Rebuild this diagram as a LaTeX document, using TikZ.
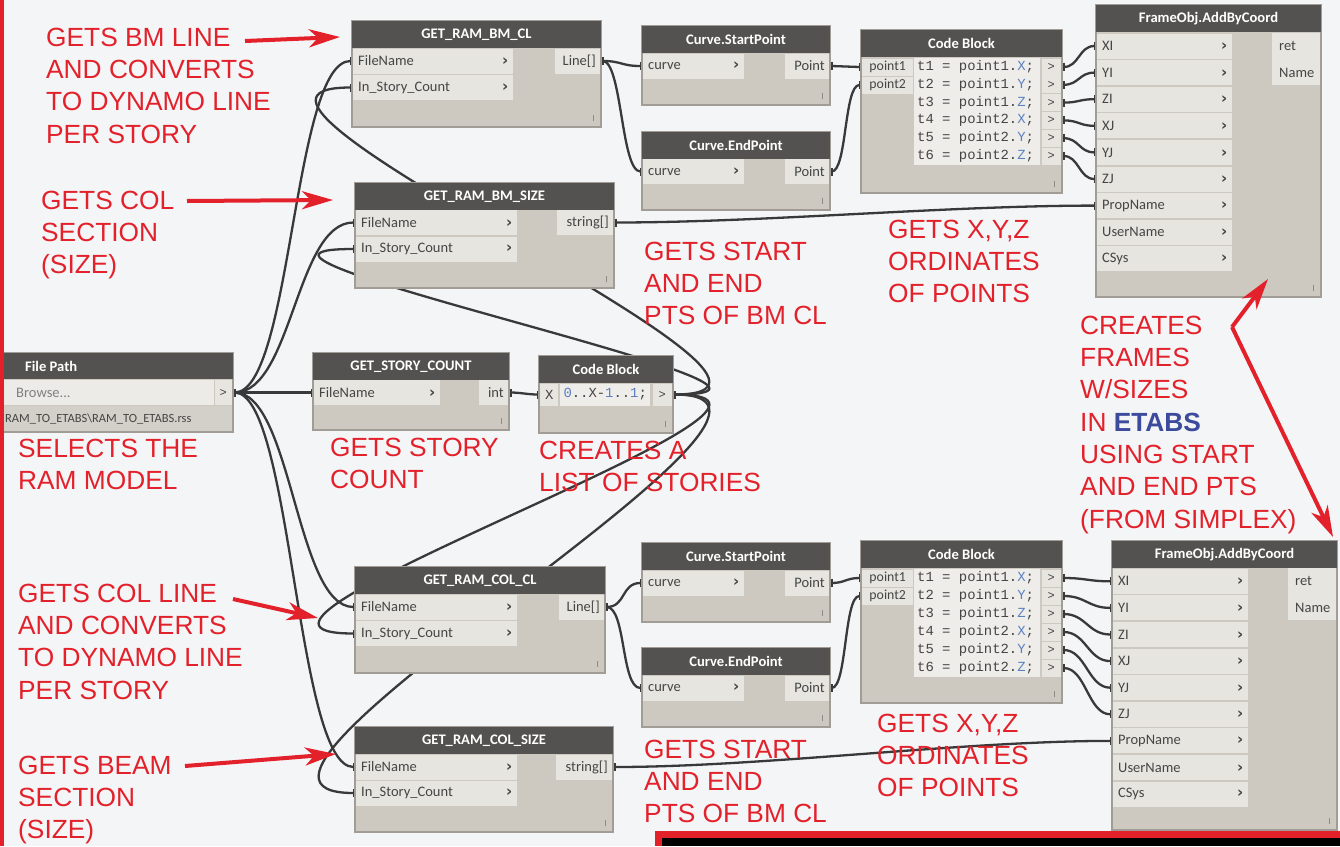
\documentclass[tikz,border=0pt]{standalone}
\usepackage{fontspec}
\setmainfont{Liberation Sans}
\newfontfamily\uifont{Carlito}
\newfontfamily\codefont{Liberation Mono}
\newfontfamily\chevfont{DejaVu Sans}
\usetikzlibrary{arrows.meta}

\definecolor{canvasbg}{HTML}{F4F5F7}
\definecolor{headgray}{HTML}{545250}
\definecolor{bodygray}{HTML}{CDC9C1}
\definecolor{rowgray}{HTML}{E7E5E0}
\definecolor{codecell}{HTML}{EFEDEA}
\definecolor{edgegray}{HTML}{A19D96}
\definecolor{textgray}{HTML}{454545}
\definecolor{wiregray}{HTML}{393939}
\definecolor{gripgray}{HTML}{8E8A84}
\definecolor{notered}{HTML}{E3212B}
\definecolor{noteblue}{HTML}{3C4B9B}
\definecolor{codeblue}{HTML}{5A80C4}
\definecolor{pathcell}{HTML}{D3D0CA}
\definecolor{browsecell}{HTML}{ECEBE8}

\pgfdeclarelayer{canvaslayer}
\pgfdeclarelayer{wirelayer}
\pgfdeclarelayer{notelayer}
\pgfsetlayers{canvaslayer,wirelayer,main,notelayer}

\tikzset{
  nodebody/.style={fill=bodygray, draw=edgegray, line width=1.2pt},
  nodehead/.style={fill=headgray},
  title/.style={text=white, inner sep=0pt, font=\uifont\bfseries\fontsize{14.6}{16}\selectfont},
  inport/.style={anchor=west, fill=rowgray, inner xsep=5pt, inner ysep=0pt, minimum height=25pt,
    align=left, text=textgray, font=\uifont\fontsize{14.5}{16}\selectfont},
  outport/.style={anchor=east, fill=rowgray, inner xsep=4pt, inner ysep=0pt, minimum height=25pt,
    align=right, text=textgray, font=\uifont\fontsize{14.5}{16}\selectfont},
  cbport/.style={anchor=west, fill=rowgray, inner xsep=3pt, inner ysep=0pt, minimum height=17pt,
    text=textgray, font=\uifont\fontsize{13.8}{15}\selectfont},
  cbout/.style={anchor=east, fill=rowgray, inner sep=0pt, minimum width=19pt, minimum height=17pt,
    text=textgray, font=\codefont\fontsize{12}{14}\selectfont},
  codeline/.style={anchor=west, inner sep=0pt, text=textgray, font=\codefont\fontsize{13.9}{16}\selectfont},
  outlabel/.style={anchor=west, inner sep=0pt, text=textgray, font=\uifont\fontsize{14.5}{16}\selectfont},
  grip/.style={draw=gripgray, line width=1pt},
  wiretip/.tip={Rectangle[length=3.5pt,width=8pt]},
  wire/.style={draw=wiregray, line width=2.3pt, wiretip-wiretip},
  note/.style={anchor=north west, inner sep=0pt, align=left, text=notered,
    font=\fontsize{26.3}{32.3}\selectfont},
  notearrow/.style={draw=notered, line width=4pt, -{Stealth[length=31pt,width=18pt,inset=9pt]}},
}

% the bold chevron of an input port
\newcommand\chev{{\chevfont\bfseries\fontsize{15}{15}\selectfont ›}}

% frame of a Dynamo node: name, left, top, right, bottom, title
\newcommand\DynFrame[6]{%
  \path[nodebody] (#2,#3) rectangle (#4,#5);
  \path[nodehead] (#2,#3) rectangle (#4,{#3+27});
  \node[title] (#1) at ({(#2+#4)/2},{#3+13.5}) {#6};
  \draw[grip] ({#4-8},{#5-12}) -- ({#4-8},{#5-6});
}
% input port row: name, left, y, width, label
\newcommand\InRow[5]{%
  \pgfmathsetmacro\rowtw{#4-10}%
  \node[inport, text width=\rowtw pt] (#1) at (#2,#3) {#5\hfill\chev};
}
% output port cell: name, right, y, width, label
\newcommand\OutRow[5]{%
  \pgfmathsetmacro\rowtw{#4-8}%
  \node[outport, text width=\rowtw pt] (#1) at (#2,#3) {#5};
}

\begin{document}
\begin{tikzpicture}[x=1pt,y=-1pt]
\useasboundingbox (0,0) rectangle (1340,846);
\begin{pgfonlayer}{canvaslayer}
  \fill[canvasbg] (0,0) rectangle (1340,846);
\end{pgfonlayer}

% ---------------- File Path
\path[nodebody] (3,353) rectangle (233,432);
\path[nodehead] (3,353) rectangle (233,379);
\node[title, anchor=west] (fp) at (25,366) {File Path};
\fill[browsecell] (4,380) rectangle (214,405);
\node[outlabel, text=gray] (fp-browse) at (16,392.5) {Browse...};
\node[cbout, minimum width=17pt, minimum height=25pt] (fp-out) at (232,392.5) {>};
\fill[pathcell] (4,406) rectangle (232,431);
\node[outlabel, font=\uifont\fontsize{12.5}{14}\selectfont] (fp-path) at (5,419)
  {RAM\_TO\_ETABS\textbackslash RAM\_TO\_ETABS.rss};

% ---------------- GET_STORY_COUNT
\DynFrame{sc}{313}{353}{509}{430}{GET\_STORY\_COUNT}
\InRow{sc-fn}{314}{392.5}{126}{FileName}
\OutRow{sc-out}{508}{392.5}{29}{int}

% ---------------- Code Block (story list)
\DynFrame{cbM}{539}{356}{673}{433}{Code Block}
\node[cbport, inner xsep=0pt, minimum width=18pt, minimum height=22pt, font=\codefont\fontsize{13.9}{16}\selectfont] (cbM-x) at (540,394.5) {X};
\node[codeline, anchor=west, fill=codecell, minimum width=90pt, minimum height=22pt, inner xsep=3pt] (cbM-code) at (560,394.5)
  {\textcolor{codeblue}{0}..X-\textcolor{codeblue}{1}..\textcolor{codeblue}{1};};
\node[cbout, minimum height=22pt] (cbM-out) at (672,394.5) {>};

% ---------------- GET_RAM_BM_CL
\DynFrame{bmcl}{352}{21}{601}{127}{GET\_RAM\_BM\_CL}
\InRow{bmcl-fn}{353}{61}{160}{FileName}
\InRow{bmcl-sc}{353}{87.5}{160}{In\_Story\_Count}
\OutRow{bmcl-out}{600}{61}{45}{Line[]}

% ---------------- GET_RAM_BM_SIZE
\DynFrame{bmsize}{355}{183}{614}{288}{GET\_RAM\_BM\_SIZE}
\InRow{bmsize-fn}{356}{222.5}{161}{FileName}
\InRow{bmsize-sc}{356}{249}{161}{In\_Story\_Count}
\OutRow{bmsize-out}{613}{222.5}{56}{string[]}

% ---------------- Curve.StartPoint / Curve.EndPoint (beams)
\DynFrame{spA}{642}{26}{830}{105}{Curve.StartPoint}
\InRow{spA-in}{643}{66}{101}{curve}
\OutRow{spA-out}{829}{66}{44}{Point}
\DynFrame{epA}{642}{132}{830}{210}{Curve.EndPoint}
\InRow{epA-in}{643}{171.5}{101}{curve}
\OutRow{epA-out}{829}{171.5}{44}{Point}

% ---------------- Code Block (beam coordinates)
\DynFrame{cbA}{861}{30}{1062}{193}{Code Block}
\fill[codecell] (914,58) rectangle (1040,165);
\node[cbport, minimum width=51pt] (cbA-p1) at (862,67) {point1};
\node[cbport, minimum width=51pt] (cbA-p2) at (862,85) {point2};
\node[codeline] (cbA-l1) at (917,67) {t1 = point1.\textcolor{codeblue}{X};};
\node[codeline] (cbA-l2) at (917,84.8) {t2 = point1.\textcolor{codeblue}{Y};};
\node[codeline] (cbA-l3) at (917,102.6) {t3 = point1.\textcolor{codeblue}{Z};};
\node[codeline] (cbA-l4) at (917,120.4) {t4 = point2.\textcolor{codeblue}{X};};
\node[codeline] (cbA-l5) at (917,138.2) {t5 = point2.\textcolor{codeblue}{Y};};
\node[codeline] (cbA-l6) at (917,156) {t6 = point2.\textcolor{codeblue}{Z};};
\node[cbout] (cbA-o1) at (1061,67) {>};
\node[cbout] (cbA-o2) at (1061,84.8) {>};
\node[cbout] (cbA-o3) at (1061,102.6) {>};
\node[cbout] (cbA-o4) at (1061,120.4) {>};
\node[cbout] (cbA-o5) at (1061,138.2) {>};
\node[cbout] (cbA-o6) at (1061,156) {>};

% ---------------- FrameObj.AddByCoord (beams)
\DynFrame{foA}{1096}{5}{1321}{297}{FrameObj.AddByCoord}
\InRow{foA-xi}{1097}{46}{135}{XI}
\InRow{foA-yi}{1097}{72.6}{135}{YI}
\InRow{foA-zi}{1097}{99.2}{135}{ZI}
\InRow{foA-xj}{1097}{125.8}{135}{XJ}
\InRow{foA-yj}{1097}{152.4}{135}{YJ}
\InRow{foA-zj}{1097}{179}{135}{ZJ}
\InRow{foA-prop}{1097}{205.6}{135}{PropName}
\InRow{foA-user}{1097}{232.2}{135}{UserName}
\InRow{foA-csys}{1097}{258.8}{135}{CSys}
\fill[rowgray] (1272,33) rectangle (1320,85);
\node[outlabel] (foA-ret) at (1279,46) {ret};
\node[outlabel] (foA-name) at (1279,72.6) {Name};

% ---------------- GET_RAM_COL_CL
\DynFrame{colcl}{355}{567}{605}{673}{GET\_RAM\_COL\_CL}
\InRow{colcl-fn}{356}{607}{161}{FileName}
\InRow{colcl-sc}{356}{633.5}{161}{In\_Story\_Count}
\OutRow{colcl-out}{604}{607}{45}{Line[]}

% ---------------- GET_RAM_COL_SIZE
\DynFrame{colsize}{355}{727}{613}{832}{GET\_RAM\_COL\_SIZE}
\InRow{colsize-fn}{356}{767}{161}{FileName}
\InRow{colsize-sc}{356}{793}{161}{In\_Story\_Count}
\OutRow{colsize-out}{612}{767}{56}{string[]}

% ---------------- Curve.StartPoint / Curve.EndPoint (columns)
\DynFrame{spB}{642}{543}{830}{622}{Curve.StartPoint}
\InRow{spB-in}{643}{583}{101}{curve}
\OutRow{spB-out}{829}{583}{44}{Point}
\DynFrame{epB}{642}{648}{830}{727}{Curve.EndPoint}
\InRow{epB-in}{643}{688}{101}{curve}
\OutRow{epB-out}{829}{688}{44}{Point}

% ---------------- Code Block (column coordinates)
\DynFrame{cbB}{861}{541}{1062}{703}{Code Block}
\fill[codecell] (914,569) rectangle (1040,677);
\node[cbport, minimum width=51pt] (cbB-p1) at (862,578) {point1};
\node[cbport, minimum width=51pt] (cbB-p2) at (862,596) {point2};
\node[codeline] (cbB-l1) at (917,578) {t1 = point1.\textcolor{codeblue}{X};};
\node[codeline] (cbB-l2) at (917,596) {t2 = point1.\textcolor{codeblue}{Y};};
\node[codeline] (cbB-l3) at (917,614) {t3 = point1.\textcolor{codeblue}{Z};};
\node[codeline] (cbB-l4) at (917,632) {t4 = point2.\textcolor{codeblue}{X};};
\node[codeline] (cbB-l5) at (917,650) {t5 = point2.\textcolor{codeblue}{Y};};
\node[codeline] (cbB-l6) at (917,668) {t6 = point2.\textcolor{codeblue}{Z};};
\node[cbout] (cbB-o1) at (1061,578) {>};
\node[cbout] (cbB-o2) at (1061,596) {>};
\node[cbout] (cbB-o3) at (1061,614) {>};
\node[cbout] (cbB-o4) at (1061,632) {>};
\node[cbout] (cbB-o5) at (1061,650) {>};
\node[cbout] (cbB-o6) at (1061,668) {>};

% ---------------- FrameObj.AddByCoord (columns)
\DynFrame{foB}{1112}{541}{1337}{830}{FrameObj.AddByCoord}
\InRow{foB-xi}{1113}{581.3}{135}{XI}
\InRow{foB-yi}{1113}{607.9}{135}{YI}
\InRow{foB-zi}{1113}{634.5}{135}{ZI}
\InRow{foB-xj}{1113}{661.1}{135}{XJ}
\InRow{foB-yj}{1113}{687.7}{135}{YJ}
\InRow{foB-zj}{1113}{714.3}{135}{ZJ}
\InRow{foB-prop}{1113}{740.9}{135}{PropName}
\InRow{foB-user}{1113}{767.5}{135}{UserName}
\InRow{foB-csys}{1113}{794.1}{135}{CSys}
\fill[rowgray] (1288,568) rectangle (1336,620);
\node[outlabel] (foB-ret) at (1295,581.3) {ret};
\node[outlabel] (foB-name) at (1295,607.9) {Name};

% ---------------- wires
\begin{pgfonlayer}{wirelayer}
  % file path fan-out
  \draw[wire] (fp-out.east) .. controls +(60,0) and +(-60,0) .. (bmcl-fn.west);
  \draw[wire] (fp-out.east) .. controls +(60,0) and +(-60,0) .. (bmsize-fn.west);
  \draw[wire] (fp-out.east) .. controls +(30,0) and +(-30,0) .. (sc-fn.west);
  \draw[wire] (fp-out.east) .. controls +(60,0) and +(-60,0) .. (colcl-fn.west);
  \draw[wire] (fp-out.east) .. controls +(60,0) and +(-60,0) .. (colsize-fn.west);
  % story count to range
  \draw[wire] (sc-out.east) .. controls +(12,0) and +(-12,0) .. (cbM-x.west);
  % story list back to the four readers
  \draw[wire] (cbM-out.east) .. controls +(200,0) and +(-200,0) .. (bmcl-sc.west);
  \draw[wire] (cbM-out.east) .. controls +(200,0) and +(-200,0) .. (bmsize-sc.west);
  \draw[wire] (cbM-out.east) .. controls +(200,0) and +(-200,0) .. (colcl-sc.west);
  \draw[wire] (cbM-out.east) .. controls +(200,0) and +(-200,0) .. (colsize-sc.west);
  % beams
  \draw[wire] (bmcl-out.east) .. controls +(22,0) and +(-22,0) .. (spA-in.west);
  \draw[wire] (bmcl-out.east) .. controls +(22,0) and +(-22,0) .. (epA-in.west);
  \draw[wire] (spA-out.east) .. controls +(16,0) and +(-16,0) .. (cbA-p1.west);
  \draw[wire] (epA-out.east) .. controls +(18,0) and +(-18,0) .. (cbA-p2.west);
  \draw[wire] (cbA-o1.east) .. controls +(18,0) and +(-18,0) .. (foA-xi.west);
  \draw[wire] (cbA-o2.east) .. controls +(18,0) and +(-18,0) .. (foA-yi.west);
  \draw[wire] (cbA-o3.east) .. controls +(18,0) and +(-18,0) .. (foA-zi.west);
  \draw[wire] (cbA-o4.east) .. controls +(18,0) and +(-18,0) .. (foA-xj.west);
  \draw[wire] (cbA-o5.east) .. controls +(18,0) and +(-18,0) .. (foA-yj.west);
  \draw[wire] (cbA-o6.east) .. controls +(18,0) and +(-18,0) .. (foA-zj.west);
  \draw[wire] (bmsize-out.east) .. controls +(150,0) and +(-150,0) .. (foA-prop.west);
  % columns
  \draw[wire] (colcl-out.east) .. controls +(22,0) and +(-22,0) .. (spB-in.west);
  \draw[wire] (colcl-out.east) .. controls +(22,0) and +(-22,0) .. (epB-in.west);
  \draw[wire] (spB-out.east) .. controls +(16,0) and +(-16,0) .. (cbB-p1.west);
  \draw[wire] (epB-out.east) .. controls +(18,0) and +(-18,0) .. (cbB-p2.west);
  \draw[wire] (cbB-o1.east) .. controls +(25,0) and +(-25,0) .. (foB-xi.west);
  \draw[wire] (cbB-o2.east) .. controls +(25,0) and +(-25,0) .. (foB-yi.west);
  \draw[wire] (cbB-o3.east) .. controls +(25,0) and +(-25,0) .. (foB-zi.west);
  \draw[wire] (cbB-o4.east) .. controls +(25,0) and +(-25,0) .. (foB-xj.west);
  \draw[wire] (cbB-o5.east) .. controls +(25,0) and +(-25,0) .. (foB-yj.west);
  \draw[wire] (cbB-o6.east) .. controls +(25,0) and +(-25,0) .. (foB-zj.west);
  \draw[wire] (colsize-out.east) .. controls +(150,0) and +(-150,0) .. (foB-prop.west);
\end{pgfonlayer}

% ---------------- notes
\node[note] (n-bmline) at (46,27.7) {GETS BM LINE\\AND CONVERTS\\TO DYNAMO LINE\\PER STORY};
\node[note] (n-colsec) at (41,190.7) {GETS COL\\SECTION\\(SIZE)};
\node[note] (n-select) at (18,438.7) {SELECTS THE\\RAM MODEL};
\node[note] (n-story) at (330,437.7) {GETS STORY\\COUNT};
\node[note] (n-list) at (539,440.7) {CREATES A\\LIST OF STORIES};
\node[note] (n-ptsA) at (644,241.7) {GETS START\\AND END\\PTS OF BM CL};
\node[note] (n-xyzA) at (888,219.7) {GETS X,Y,Z\\ORDINATES\\OF POINTS};
\node[note] (n-frames) at (1080,315.7) {CREATES\\FRAMES\\W/SIZES\\IN \textcolor{noteblue}{\bfseries ETABS}\\USING START\\AND END PTS\\(FROM SIMPLEX)};
\node[note] (n-colline) at (18,583.7) {GETS COL LINE\\AND CONVERTS\\TO DYNAMO LINE\\PER STORY};
\node[note] (n-beamsec) at (18,755.7) {GETS BEAM\\SECTION\\(SIZE)};
\node[note] (n-ptsB) at (644,739.7) {GETS START\\AND END\\PTS OF BM CL};
\node[note] (n-xyzB) at (877,713.7) {GETS X,Y,Z\\ORDINATES\\OF POINTS};

% pointer arrows
\coordinate (a1s) at (245,41);   \coordinate (a1e) at (340,37);
\coordinate (a2s) at (187,201);  \coordinate (a2e) at (333,200);
\coordinate (a3s) at (233,599);  \coordinate (a3e) at (318,618);
\coordinate (a4s) at (185,766);  \coordinate (a4e) at (336,754);
\coordinate (a5s) at (1232,327); \coordinate (a5u) at (1268,279); \coordinate (a5d) at (1333,537);
\draw[notearrow] (a1s) -- (a1e);
\draw[notearrow] (a2s) -- (a2e);
\draw[notearrow] (a3s) -- (a3e);
\draw[notearrow] (a4s) -- (a4e);
\draw[notearrow] (a5s) -- (a5u);
\draw[notearrow] (a5s) -- (a5d);

\begin{pgfonlayer}{notelayer}
  \fill[notered] (0,0) rectangle (3.5,846);
  \fill[notered] (655,831) rectangle (1340,846);
  \fill[black] (662,838) rectangle (1340,846);
\end{pgfonlayer}
\end{tikzpicture}
\end{document}
